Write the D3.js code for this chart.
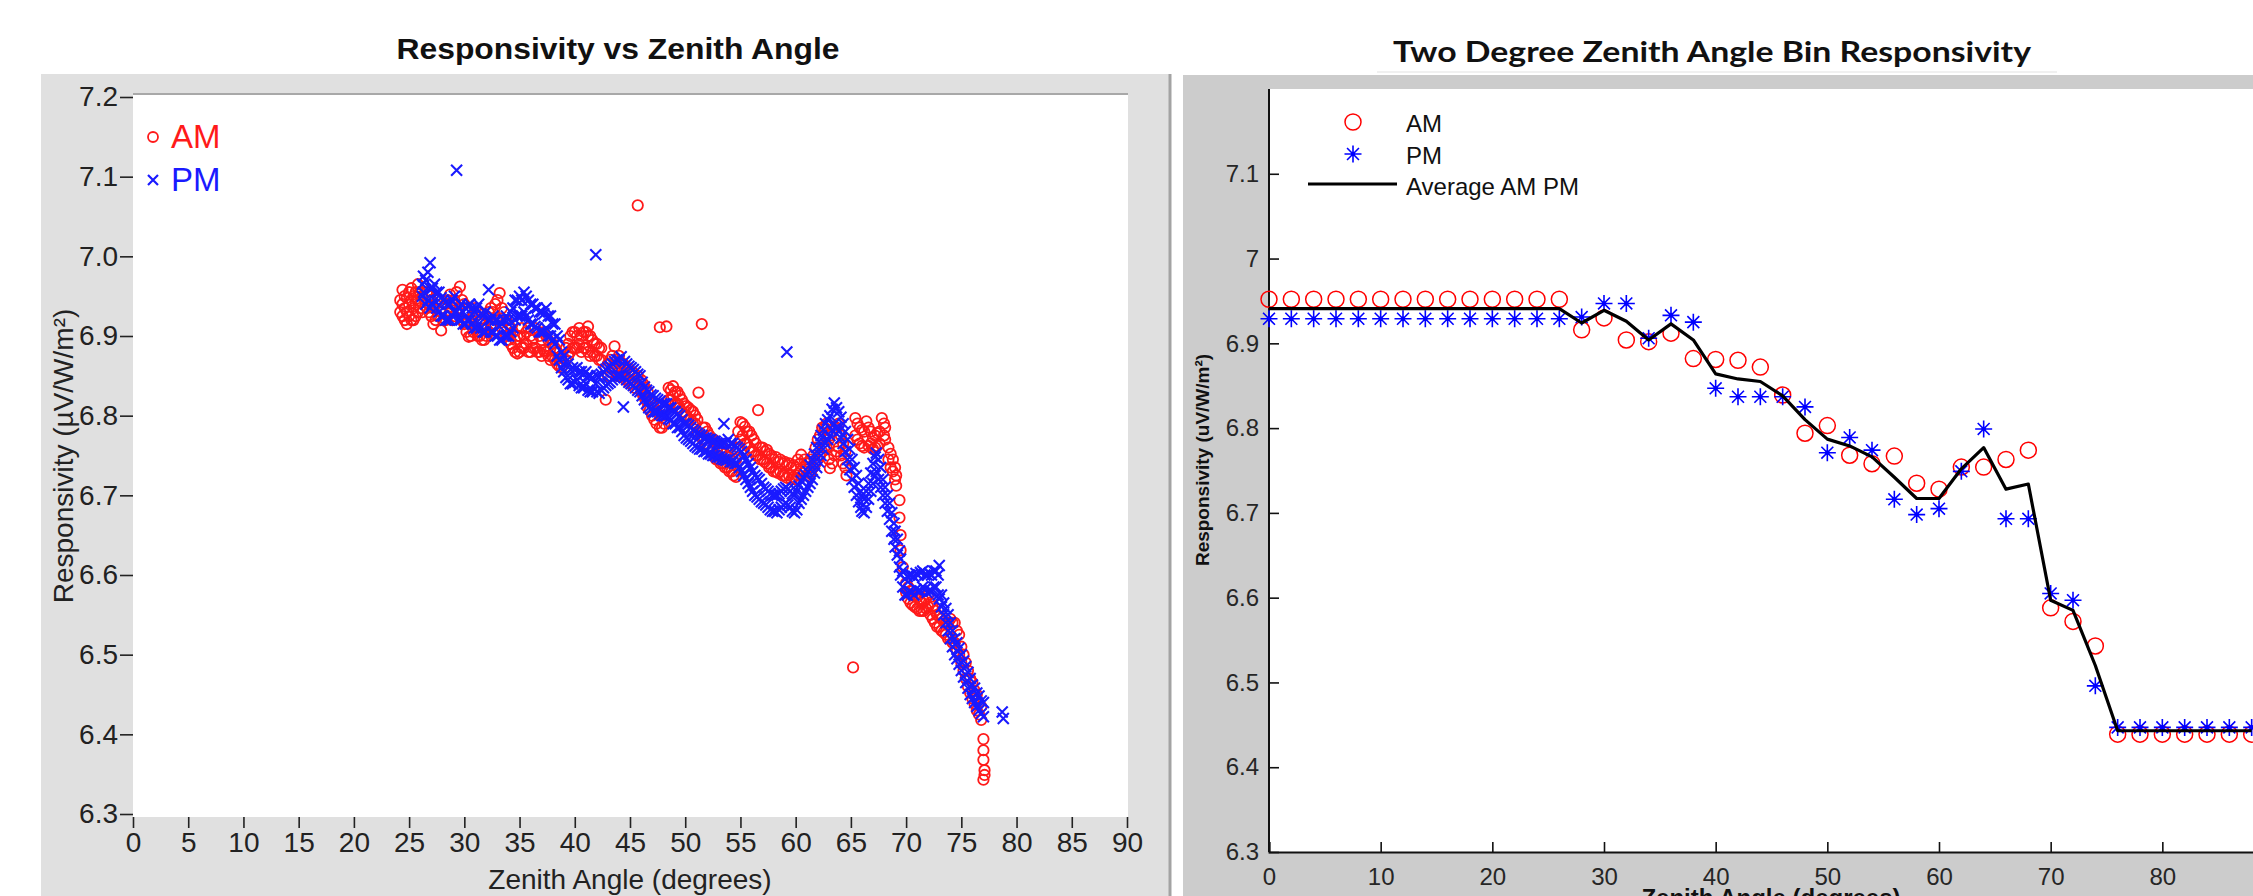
<!DOCTYPE html>
<html>
<head>
<meta charset="utf-8">
<script src="https://cdn.jsdelivr.net/npm/d3@7"></script>
<style>
  body { margin: 0; background: #fff; }
  svg { display: block; font-family: "Liberation Sans", Arial, sans-serif; }
</style>
</head>
<body>
<svg id="chart" width="2253" height="896"></svg>
<script>
// left chart: zenith angle -> responsivity readings, grouped by angle
const amScatter = [
  [24.2, [6.93, 6.945]], [24.6, [6.92, 6.935, 6.95]], [25.0, [6.925, 6.94, 6.955]],
  [25.4, [6.92, 6.935, 6.95]], [25.8, [6.93, 6.945, 6.965]], [26.2, [6.93, 6.95]],
  [26.6, [6.935, 6.955]], [27.0, [6.925, 6.945]], [27.4, [6.92, 6.94]], [27.9, [6.907, 6.93]],
  [28.3, [6.92, 6.94]], [28.7, [6.93, 6.952]], [29.1, [6.925, 6.945]], [29.6, [6.935, 6.962]],
  [30.0, [6.915, 6.94]], [30.4, [6.899, 6.92]], [30.8, [6.905, 6.925]], [31.2, [6.9, 6.93]],
  [31.6, [6.895, 6.915]], [32.0, [6.9, 6.925]], [32.4, [6.91, 6.935]], [32.8, [6.915, 6.94]],
  [33.2, [6.92, 6.954]], [33.6, [6.905, 6.93]], [34.0, [6.895, 6.915]], [34.4, [6.885, 6.905]],
  [34.8, [6.878, 6.9]], [35.2, [6.885, 6.91]], [35.6, [6.89, 6.905]], [36.0, [6.88, 6.9]],
  [36.4, [6.885, 6.91]], [36.8, [6.88, 6.9]], [37.2, [6.882, 6.905]], [37.6, [6.875, 6.895]],
  [38.0, [6.874, 6.89]], [38.4, [6.865, 6.88]], [38.8, [6.86, 6.875]], [39.2, [6.87, 6.885]],
  [39.6, [6.88, 6.9]], [40.0, [6.885, 6.905]], [40.4, [6.89, 6.91]], [40.8, [6.885, 6.905]],
  [41.2, [6.88, 6.9, 6.912]], [41.6, [6.88, 6.895]], [42.0, [6.875, 6.89]], [42.4, [6.87, 6.885]],
  [42.8, [6.82, 6.86]], [43.2, [6.855, 6.87]], [43.6, [6.86, 6.887]], [44.0, [6.855, 6.875]],
  [44.4, [6.85, 6.865]], [44.8, [6.845, 6.86]], [45.2, [6.84, 6.855]], [45.7, [7.064, 6.85]],
  [46.0, [6.83, 6.845]], [46.4, [6.82, 6.835]], [46.8, [6.807, 6.82]], [47.2, [6.795, 6.81]],
  [47.7, [6.911, 6.785, 6.8]], [48.1, [6.79, 6.805]], [48.3, [6.912]], [48.5, [6.82, 6.835]],
  [48.9, [6.825, 6.837]], [49.3, [6.815, 6.83]], [49.7, [6.805, 6.82]], [50.1, [6.8, 6.812]],
  [50.5, [6.795, 6.807]], [50.9, [6.79, 6.8]], [51.2, [6.829]], [51.5, [6.915, 6.775]],
  [51.8, [6.765, 6.785]], [52.2, [6.76, 6.775]], [52.6, [6.75, 6.77]], [53.0, [6.745, 6.765]],
  [53.4, [6.74, 6.76]], [53.8, [6.735, 6.755]], [54.2, [6.73, 6.75]], [54.6, [6.723, 6.745]],
  [55.0, [6.77, 6.792]], [55.4, [6.765, 6.786]], [55.8, [6.76, 6.78]], [56.2, [6.755, 6.77]],
  [56.6, [6.75, 6.807]], [57.0, [6.745, 6.76]], [57.4, [6.74, 6.757]], [57.8, [6.735, 6.75]],
  [58.2, [6.73, 6.748]], [58.6, [6.73, 6.745]], [59.0, [6.725, 6.742]], [59.4, [6.725, 6.74]],
  [59.8, [6.723, 6.738]], [60.2, [6.725, 6.745]], [60.5, [6.751]], [60.8, [6.73, 6.745]],
  [61.2, [6.728, 6.742]], [61.6, [6.735, 6.75]], [62.0, [6.745, 6.77]], [62.4, [6.755, 6.785]],
  [62.8, [6.76, 6.79]], [63.1, [6.734, 6.775]], [63.5, [6.75, 6.785]], [63.9, [6.76, 6.79]],
  [64.3, [6.74, 6.765]], [64.6, [6.725]], [65.2, [6.484]], [65.4, [6.775, 6.797]],
  [65.8, [6.765, 6.785]], [66.2, [6.76, 6.78]], [66.4, [6.793]], [66.8, [6.765, 6.78]],
  [67.2, [6.76, 6.775]], [67.6, [6.765, 6.78]], [67.8, [6.797]], [68.1, [6.77, 6.785]],
  [68.4, [6.745, 6.76]], [68.8, [6.73, 6.745]], [69.1, [6.712, 6.725]], [69.4, [6.694, 6.672]],
  [69.5, [6.65, 6.631]], [69.7, [6.61]], [70.0, [6.578, 6.59]], [70.4, [6.565, 6.58]],
  [70.8, [6.56, 6.575]], [71.2, [6.555, 6.57]], [71.6, [6.555, 6.568]], [72.0, [6.56, 6.575]],
  [72.4, [6.545, 6.56]], [72.8, [6.535, 6.55]], [73.2, [6.53, 6.545]], [73.6, [6.525, 6.54]],
  [74.0, [6.52, 6.545]], [74.4, [6.515, 6.54]], [74.8, [6.5, 6.525]], [75.2, [6.48, 6.5]],
  [75.6, [6.46, 6.48]], [76.0, [6.445, 6.465]], [76.4, [6.43, 6.45]], [76.8, [6.418, 6.435]],
  [77.0, [6.394, 6.38, 6.368, 6.343]], [77.1, [6.355, 6.349]]
]

// more AM readings filling the band between the ones above
const amScatterFill = [
  [24.4, [6.925, 6.94, 6.958]], [24.8, [6.915, 6.93, 6.948]], [25.2, [6.92, 6.945, 6.96]],
  [25.6, [6.925, 6.94, 6.955]], [26.0, [6.935, 6.955]], [26.8, [6.93, 6.95]], [27.2, [6.915, 6.935]],
  [27.6, [6.925, 6.945]], [28.5, [6.925, 6.945]], [28.9, [6.92, 6.94]], [29.3, [6.93, 6.955]],
  [29.8, [6.92, 6.945]], [30.2, [6.905, 6.93]], [30.6, [6.9, 6.915]], [31.0, [6.91, 6.935]],
  [31.4, [6.9, 6.92]], [31.8, [6.895, 6.91]], [32.2, [6.905, 6.93]], [32.6, [6.915, 6.93]],
  [33.0, [6.92, 6.945]], [33.4, [6.91, 6.935]], [33.8, [6.9, 6.92]], [34.2, [6.89, 6.91]],
  [34.6, [6.88, 6.895]], [35.0, [6.88, 6.9]], [35.4, [6.885, 6.9]], [35.8, [6.88, 6.91]],
  [36.2, [6.885, 6.895]], [36.6, [6.88, 6.905]], [37.0, [6.875, 6.895]], [37.4, [6.88, 6.9]],
  [37.8, [6.87, 6.885]], [38.2, [6.87, 6.885]], [38.6, [6.862, 6.872]], [39.4, [6.875, 6.89]],
  [39.8, [6.885, 6.905]], [40.2, [6.885, 6.9]], [40.6, [6.88, 6.9]], [41.0, [6.885, 6.905]],
  [41.4, [6.875, 6.9]], [41.8, [6.875, 6.89]], [42.2, [6.87, 6.885]], [43.0, [6.85, 6.865]],
  [43.4, [6.86, 6.875]], [43.8, [6.85, 6.87]], [44.2, [6.85, 6.865]], [44.6, [6.845, 6.86]],
  [45.0, [6.84, 6.855]], [45.4, [6.835, 6.85]], [46.2, [6.825, 6.84]], [46.6, [6.81, 6.83]],
  [47.0, [6.8, 6.815]], [47.4, [6.79, 6.805]], [47.9, [6.785, 6.8]], [48.7, [6.82, 6.832]],
  [49.1, [6.815, 6.83]], [49.5, [6.81, 6.825]], [49.9, [6.8, 6.815]], [50.3, [6.795, 6.81]],
  [50.7, [6.79, 6.805]], [51.1, [6.78, 6.795]], [51.6, [6.77, 6.785]], [52.0, [6.76, 6.78]],
  [52.4, [6.755, 6.77]], [52.8, [6.745, 6.765]], [53.2, [6.74, 6.755]], [53.6, [6.735, 6.752]],
  [54.0, [6.73, 6.748]], [54.4, [6.725, 6.742]], [54.8, [6.76, 6.78]], [55.2, [6.775, 6.79]],
  [55.6, [6.765, 6.78]], [56.0, [6.755, 6.775]], [56.4, [6.75, 6.765]], [56.8, [6.745, 6.76]],
  [57.2, [6.742, 6.755]], [57.6, [6.735, 6.752]], [58.0, [6.73, 6.745]], [58.4, [6.728, 6.742]],
  [58.8, [6.725, 6.74]], [59.2, [6.722, 6.738]], [59.6, [6.72, 6.735]], [60.0, [6.72, 6.735]],
  [60.4, [6.73, 6.74]], [61.0, [6.725, 6.74]], [61.4, [6.73, 6.745]], [61.8, [6.74, 6.76]],
  [62.2, [6.75, 6.775]], [62.6, [6.76, 6.785]], [63.0, [6.745, 6.77]], [63.3, [6.74, 6.78]],
  [63.7, [6.755, 6.785]], [64.1, [6.75, 6.775]], [64.5, [6.735, 6.755]], [65.6, [6.77, 6.79]],
  [66.0, [6.762, 6.782]], [66.6, [6.762, 6.785]], [67.0, [6.758, 6.772]], [67.4, [6.762, 6.778]],
  [68.0, [6.775, 6.79]], [68.6, [6.735, 6.752]], [69.0, [6.72, 6.735]], [70.2, [6.57, 6.585]],
  [70.6, [6.562, 6.575]], [71.0, [6.558, 6.572]], [71.4, [6.555, 6.565]], [71.8, [6.558, 6.57]],
  [72.2, [6.55, 6.565]], [72.6, [6.54, 6.555]], [73.0, [6.535, 6.548]], [73.4, [6.528, 6.542]],
  [73.8, [6.52, 6.54]], [74.2, [6.515, 6.54]], [74.6, [6.505, 6.53]], [75.0, [6.49, 6.51]],
  [75.4, [6.47, 6.49]], [75.8, [6.452, 6.47]], [76.2, [6.438, 6.455]], [76.6, [6.425, 6.44]]
]

const pmScatter = [
  [26.2, [6.95, 6.965]], [26.5, [6.94, 6.97]], [26.9, [6.992, 6.96, 6.935]], [27.3, [6.945, 6.965]],
  [27.7, [6.93, 6.955]], [28.1, [6.925, 6.945]], [28.5, [6.92, 6.94]], [28.9, [6.925, 6.945]],
  [29.3, [7.108, 6.93]], [29.7, [6.92, 6.94]], [30.1, [6.915, 6.935]], [30.5, [6.92, 6.94]],
  [30.9, [6.91, 6.93]], [31.3, [6.915, 6.94]], [31.7, [6.905, 6.925]], [32.2, [6.958, 6.92]],
  [32.6, [6.905, 6.925]], [33.0, [6.9, 6.92]], [33.4, [6.895, 6.915]], [33.8, [6.9, 6.925]],
  [34.2, [6.905, 6.93]], [34.6, [6.92, 6.945]], [35.0, [6.925, 6.95]], [35.4, [6.93, 6.955]],
  [35.8, [6.92, 6.945]], [36.2, [6.915, 6.94]], [36.6, [6.91, 6.935]], [37.0, [6.905, 6.93]],
  [37.4, [6.91, 6.935]], [37.8, [6.9, 6.925]], [38.2, [6.89, 6.915]], [38.6, [6.87, 6.895]],
  [39.0, [6.855, 6.875]], [39.4, [6.845, 6.865]], [39.8, [6.84, 6.86]], [40.2, [6.845, 6.86]],
  [40.6, [6.835, 6.855]], [41.0, [6.84, 6.855]], [41.4, [6.83, 6.85]], [41.9, [7.002, 6.84]],
  [42.2, [6.828, 6.848]], [42.6, [6.835, 6.855]], [43.0, [6.84, 6.86]], [43.4, [6.845, 6.865]],
  [43.8, [6.85, 6.87]], [44.2, [6.85, 6.874]], [44.4, [6.811]], [44.7, [6.845, 6.865]],
  [45.1, [6.84, 6.86]], [45.5, [6.835, 6.855]], [45.9, [6.83, 6.85]], [46.3, [6.82, 6.836]],
  [46.7, [6.81, 6.83]], [47.1, [6.805, 6.825]], [47.5, [6.805, 6.82]], [47.9, [6.8, 6.815]],
  [48.3, [6.8, 6.815]], [48.7, [6.795, 6.81]], [49.1, [6.79, 6.805]], [49.5, [6.785, 6.8]],
  [49.9, [6.775, 6.79]], [50.3, [6.77, 6.788]], [50.7, [6.765, 6.782]], [51.1, [6.76, 6.778]],
  [51.5, [6.758, 6.775]], [51.9, [6.755, 6.772]], [52.3, [6.752, 6.77]], [52.7, [6.75, 6.768]],
  [53.1, [6.748, 6.765]], [53.5, [6.745, 6.765, 6.79]], [53.9, [6.745, 6.77]], [54.3, [6.742, 6.765]],
  [54.7, [6.74, 6.76]], [55.1, [6.73, 6.755]], [55.5, [6.72, 6.745]], [55.9, [6.71, 6.735]],
  [56.3, [6.7, 6.725]], [56.7, [6.695, 6.72]], [57.1, [6.69, 6.71]], [57.5, [6.685, 6.705]],
  [57.9, [6.68, 6.7]], [58.3, [6.678, 6.7]], [58.7, [6.685, 6.705]], [59.1, [6.69, 6.71]],
  [59.2, [6.88]], [59.5, [6.685, 6.705]], [59.9, [6.678, 6.7]], [60.3, [6.69, 6.712]],
  [60.7, [6.7, 6.722]], [61.1, [6.71, 6.73]], [61.5, [6.72, 6.745]], [61.9, [6.735, 6.76]],
  [62.3, [6.75, 6.775]], [62.7, [6.765, 6.79]], [63.1, [6.775, 6.8]], [63.5, [6.79, 6.816]],
  [63.9, [6.78, 6.805]], [64.3, [6.765, 6.79]], [64.7, [6.745, 6.77]], [65.1, [6.72, 6.745]],
  [65.5, [6.7, 6.725]], [65.9, [6.685, 6.705]], [66.2, [6.678, 6.695]], [66.6, [6.695, 6.715]],
  [67.0, [6.715, 6.74]], [67.3, [6.73, 6.753]], [67.7, [6.71, 6.735]], [68.1, [6.69, 6.71]],
  [68.5, [6.67, 6.69]], [68.9, [6.645, 6.665]], [69.2, [6.625, 6.645]], [69.5, [6.6, 6.62]],
  [69.9, [6.575, 6.595]], [70.3, [6.58, 6.6]], [70.7, [6.575, 6.598]], [71.1, [6.58, 6.6]],
  [71.5, [6.585, 6.605]], [71.9, [6.578, 6.6]], [72.3, [6.58, 6.6]], [72.7, [6.585, 6.605]],
  [73.0, [6.612, 6.57]], [73.4, [6.55, 6.565]], [73.8, [6.53, 6.55]], [74.2, [6.51, 6.53]],
  [74.6, [6.495, 6.515]], [75.0, [6.48, 6.5]], [75.4, [6.465, 6.485]], [75.8, [6.45, 6.47]],
  [76.2, [6.44, 6.458]], [76.6, [6.43, 6.448]], [77.0, [6.422, 6.44]], [78.7, [6.428]], [78.8, [6.42]]
]

const pmScatterFill = [
  [26.3, [6.955, 6.975]], [26.7, [6.945, 6.98]], [27.1, [6.94, 6.96]], [27.5, [6.935, 6.955]],
  [27.9, [6.925, 6.948]], [28.3, [6.92, 6.942]], [28.7, [6.92, 6.94]], [29.1, [6.93, 6.95]],
  [29.5, [6.92, 6.935]], [29.9, [6.915, 6.93]], [30.3, [6.92, 6.938]], [30.7, [6.915, 6.935]],
  [31.1, [6.91, 6.935]], [31.5, [6.91, 6.928]], [31.9, [6.905, 6.93]], [32.4, [6.905, 6.92]],
  [32.8, [6.9, 6.92]], [33.2, [6.895, 6.912]], [33.6, [6.9, 6.92]], [34.0, [6.9, 6.92]],
  [34.4, [6.91, 6.935]], [34.8, [6.925, 6.945]], [35.2, [6.925, 6.945]], [35.6, [6.925, 6.95]],
  [36.0, [6.915, 6.94]], [36.4, [6.912, 6.935]], [36.8, [6.905, 6.93]], [37.2, [6.905, 6.928]],
  [37.6, [6.9, 6.925]], [38.0, [6.895, 6.915]], [38.4, [6.875, 6.9]], [38.8, [6.86, 6.88]],
  [39.2, [6.848, 6.868]], [39.6, [6.84, 6.858]], [40.0, [6.842, 6.858]], [40.4, [6.838, 6.855]],
  [40.8, [6.835, 6.852]], [41.2, [6.832, 6.85]], [41.6, [6.83, 6.848]], [42.0, [6.83, 6.85]],
  [42.4, [6.832, 6.852]], [42.8, [6.838, 6.858]], [43.2, [6.842, 6.862]], [43.6, [6.848, 6.868]],
  [44.0, [6.85, 6.87]], [44.5, [6.848, 6.868]], [44.9, [6.842, 6.862]], [45.3, [6.838, 6.858]],
  [45.7, [6.832, 6.852]], [46.1, [6.825, 6.842]], [46.5, [6.815, 6.832]], [46.9, [6.808, 6.826]],
  [47.3, [6.805, 6.822]], [47.7, [6.802, 6.818]], [48.1, [6.8, 6.815]], [48.5, [6.796, 6.81]],
  [48.9, [6.79, 6.806]], [49.3, [6.785, 6.802]], [49.7, [6.78, 6.795]], [50.1, [6.772, 6.79]],
  [50.5, [6.768, 6.785]], [50.9, [6.762, 6.78]], [51.3, [6.758, 6.776]], [51.7, [6.755, 6.772]],
  [52.1, [6.752, 6.77]], [52.5, [6.75, 6.768]], [52.9, [6.748, 6.765]], [53.3, [6.746, 6.764]],
  [53.7, [6.744, 6.766]], [54.1, [6.742, 6.765]], [54.5, [6.74, 6.762]], [54.9, [6.735, 6.758]],
  [55.3, [6.725, 6.75]], [55.7, [6.715, 6.74]], [56.1, [6.705, 6.73]], [56.5, [6.698, 6.722]],
  [56.9, [6.692, 6.715]], [57.3, [6.688, 6.708]], [57.7, [6.682, 6.702]], [58.1, [6.68, 6.7]],
  [58.5, [6.682, 6.702]], [58.9, [6.688, 6.708]], [59.3, [6.688, 6.708]], [59.7, [6.68, 6.702]],
  [60.1, [6.682, 6.705]], [60.5, [6.695, 6.718]], [60.9, [6.705, 6.726]], [61.3, [6.715, 6.738]],
  [61.7, [6.728, 6.752]], [62.1, [6.742, 6.768]], [62.5, [6.758, 6.782]], [62.9, [6.77, 6.795]],
  [63.3, [6.782, 6.808]], [63.7, [6.785, 6.81]], [64.1, [6.772, 6.798]], [64.5, [6.755, 6.78]],
  [64.9, [6.732, 6.758]], [65.3, [6.71, 6.735]], [65.7, [6.692, 6.715]], [66.0, [6.68, 6.7]],
  [66.4, [6.685, 6.705]], [66.8, [6.705, 6.728]], [67.2, [6.725, 6.748]], [67.5, [6.72, 6.745]],
  [67.9, [6.7, 6.72]], [68.3, [6.68, 6.7]], [68.7, [6.655, 6.678]], [69.0, [6.635, 6.655]],
  [69.4, [6.61, 6.63]], [69.7, [6.585, 6.605]], [70.1, [6.575, 6.598]], [70.5, [6.578, 6.6]],
  [70.9, [6.582, 6.602]], [71.3, [6.58, 6.603]], [71.7, [6.582, 6.6]], [72.1, [6.58, 6.602]],
  [72.5, [6.585, 6.605]], [72.9, [6.575, 6.6]], [73.2, [6.56, 6.575]], [73.6, [6.54, 6.558]],
  [74.0, [6.52, 6.54]], [74.4, [6.5, 6.52]], [74.8, [6.488, 6.508]], [75.2, [6.472, 6.492]],
  [75.6, [6.458, 6.478]], [76.0, [6.445, 6.462]], [76.4, [6.435, 6.452]], [76.8, [6.426, 6.442]]
]

// right chart: two degree bins
const binZenith = [0, 2, 4, 6, 8, 10, 12, 14, 16, 18, 20, 22, 24, 26, 28, 30, 32, 34, 36, 38, 40,
  42, 44, 46, 48, 50, 52, 54, 56, 58, 60, 62, 64, 66, 68, 70, 72, 74, 76, 78, 80, 82, 84, 86, 88]
const amBin = [6.952, 6.952, 6.952, 6.952, 6.952, 6.952, 6.952, 6.952, 6.952, 6.952, 6.952, 6.952, 6.952, 6.952,
  6.916, 6.930, 6.904, 6.902, 6.912, 6.882, 6.881, 6.880, 6.872, 6.839, 6.794, 6.803, 6.768, 6.758,
  6.767, 6.735, 6.728, 6.754, 6.754, 6.763, 6.774, 6.588, 6.572, 6.543,
  6.439, 6.439, 6.439, 6.439, 6.439, 6.439, 6.439]
const pmBin = [6.929, 6.929, 6.929, 6.929, 6.929, 6.929, 6.929, 6.929, 6.929, 6.929, 6.929, 6.929, 6.929, 6.929,
  6.931, 6.947, 6.947, 6.906, 6.933, 6.925, 6.847, 6.837, 6.837, 6.837, 6.825, 6.771, 6.789, 6.774,
  6.716, 6.698, 6.705, 6.749, 6.799, 6.693, 6.693, 6.605, 6.597, 6.496,
  6.447, 6.447, 6.447, 6.447, 6.447, 6.447, 6.447]
const avgBin = [6.941, 6.941, 6.941, 6.941, 6.941, 6.941, 6.941, 6.941, 6.941, 6.941, 6.941, 6.941, 6.941, 6.941,
  6.924, 6.939, 6.926, 6.904, 6.923, 6.904, 6.864, 6.858, 6.855, 6.838, 6.810, 6.787, 6.779, 6.766,
  6.742, 6.717, 6.717, 6.752, 6.777, 6.728, 6.734, 6.597, 6.585, 6.520,
  6.443, 6.443, 6.443, 6.443, 6.443, 6.443, 6.443]

const leftYTicks = [6.3, 6.4, 6.5, 6.6, 6.7, 6.8, 6.9, 7.0, 7.1, 7.2]
const leftXTicks = [0, 5, 10, 15, 20, 25, 30, 35, 40, 45, 50, 55, 60, 65, 70, 75, 80, 85, 90]
const rightYTicks = [6.3, 6.4, 6.5, 6.6, 6.7, 6.8, 6.9, 7.0, 7.1]
const rightXTicks = [0, 10, 20, 30, 40, 50, 60, 70, 80]

const flatten = (groups) => groups.flatMap(([z, vals]) => vals.map(v => ({ z, v })))

const svg = d3.select('#chart')

const CROSS = 'M-5.5,-5.5L5.5,5.5M-5.5,5.5L5.5,-5.5'

function drawLeft() {
  const x = d3.scaleLinear().domain([0, 90]).range([133, 1127])
  const y = d3.scaleLinear().domain([6.3, 7.2]).range([814, 97])

  svg.append('rect').attr('x', 41).attr('y', 74).attr('width', 1128).attr('height', 822).attr('fill', '#e0e0e0')
  svg.append('line').attr('x1', 1170).attr('x2', 1170).attr('y1', 74).attr('y2', 896)
    .attr('stroke', '#a3a3a3').attr('stroke-width', 3)
  svg.append('rect').attr('x', 133).attr('y', 94).attr('width', 995).attr('height', 723).attr('fill', '#fff')
  svg.append('line').attr('x1', 133).attr('x2', 1128).attr('y1', 94).attr('y2', 94)
    .attr('stroke', '#a8a8a8').attr('stroke-width', 2)

  svg.append('text').attr('x', 618).attr('y', 59).attr('text-anchor', 'middle')
    .attr('font-size', 30).attr('font-weight', 'bold').attr('fill', '#111')
    .attr('textLength', 443).attr('lengthAdjust', 'spacingAndGlyphs')
    .text('Responsivity vs Zenith Angle')

  const yAxis = svg.append('g').attr('transform', 'translate(133,0)')
    .call(d3.axisLeft(y).tickValues(leftYTicks).tickFormat(d3.format('.1f')).tickSize(13).tickPadding(2))
  const xAxis = svg.append('g').attr('transform', 'translate(0,817)')
    .call(d3.axisBottom(x).tickValues(leftXTicks).tickSize(11).tickPadding(4))
  for (const ax of [yAxis, xAxis]) {
    ax.select('.domain').remove()
    ax.selectAll('line').attr('stroke', '#222').attr('stroke-width', 1.6)
    ax.selectAll('text').attr('font-size', 28).attr('fill', '#222')
      .attr('font-family', '"Liberation Sans", Arial, sans-serif')
  }

  svg.append('text').attr('x', 630).attr('y', 889).attr('text-anchor', 'middle')
    .attr('font-size', 28).attr('fill', '#222').text('Zenith Angle (degrees)')
  svg.append('text').attr('transform', 'translate(73,456) rotate(-90)').attr('text-anchor', 'middle')
    .attr('font-size', 28).attr('fill', '#222').text('Responsivity (µV/W/m²)')

  const plot = svg.append('g')
  plot.selectAll('circle.am').data(flatten(amScatter).concat(flatten(amScatterFill))).enter().append('circle')
    .attr('class', 'am')
    .attr('cx', d => x(d.z)).attr('cy', d => y(d.v)).attr('r', 5.2)
    .attr('fill', 'none').attr('stroke', '#ff1a1a').attr('stroke-width', 1.8)
  plot.selectAll('path.pm').data(flatten(pmScatter).concat(flatten(pmScatterFill))).enter().append('path')
    .attr('class', 'pm')
    .attr('transform', d => `translate(${x(d.z)},${y(d.v)})`)
    .attr('d', CROSS)
    .attr('stroke', '#1a1aff').attr('stroke-width', 2.1)

  // legend
  svg.append('circle').attr('cx', 153).attr('cy', 137).attr('r', 5)
    .attr('fill', 'none').attr('stroke', '#ff1a1a').attr('stroke-width', 1.8)
  svg.append('text').attr('x', 171).attr('y', 148).attr('font-size', 33).attr('fill', '#ff1a1a').text('AM')
  svg.append('path').attr('transform', 'translate(153,180)').attr('d', 'M-5,-5L5,5M-5,5L5,-5')
    .attr('stroke', '#1a1aff').attr('stroke-width', 2.2)
  svg.append('text').attr('x', 171).attr('y', 191).attr('font-size', 33).attr('fill', '#1a1aff').text('PM')
}

function starPath(s) {
  const d = s * 0.7
  return `M${-s},0L${s},0M0,${-s}L0,${s}M${-d},${-d}L${d},${d}M${-d},${d}L${d},${-d}`
}

function drawRight() {
  const x = d3.scaleLinear().domain([0, 90]).range([1269, 2274])
  const y = d3.scaleLinear().domain([6.3, 7.2]).range([852, 89])

  svg.append('rect').attr('x', 1183).attr('y', 75).attr('width', 1070).attr('height', 821).attr('fill', '#cccccc')
  svg.append('line').attr('x1', 1377).attr('x2', 2057).attr('y1', 72).attr('y2', 72)
    .attr('stroke', '#f0f0f0').attr('stroke-width', 2)
  svg.append('rect').attr('x', 1269).attr('y', 89).attr('width', 1000).attr('height', 763).attr('fill', '#fff')

  svg.append('text').attr('x', 1712).attr('y', 62).attr('text-anchor', 'middle')
    .attr('font-family', 'Lato, "Open Sans", sans-serif')
    .attr('font-size', 28).attr('font-weight', 'bold').attr('fill', '#111')
    .attr('textLength', 638).attr('lengthAdjust', 'spacingAndGlyphs')
    .text('Two Degree Zenith Angle Bin Responsivity')

  const yAxis = svg.append('g').attr('transform', 'translate(1269,0)')
    .call(d3.axisLeft(y).tickValues(rightYTicks).tickFormat(d3.format('~g')).tickSize(-10).tickPadding(10))
  const xAxis = svg.append('g').attr('transform', 'translate(0,852)')
    .call(d3.axisBottom(x).tickValues(rightXTicks).tickSize(-10).tickPadding(10))
  yAxis.select('.domain').attr('d', 'M0,89V852')
  for (const ax of [yAxis, xAxis]) {
    ax.select('.domain').attr('stroke', '#111').attr('stroke-width', 2)
    ax.selectAll('line').attr('stroke', '#111').attr('stroke-width', 1.6)
    ax.selectAll('text').attr('font-size', 24).attr('fill', '#262626')
      .attr('font-family', '"Liberation Sans", Arial, sans-serif')
  }
  xAxis.selectAll('.tick text').attr('dy', '0.95em')

  svg.append('text').attr('x', 1771).attr('y', 906).attr('text-anchor', 'middle')
    .attr('font-size', 24).attr('font-weight', 'bold').attr('fill', '#111').text('Zenith Angle (degrees)')
  svg.append('text').attr('transform', 'translate(1209,460) rotate(-90)').attr('text-anchor', 'middle')
    .attr('font-size', 19).attr('font-weight', 'bold').attr('fill', '#111').text('Responsivity (uV/W/m²)')

  const am = binZenith.map((z, i) => ({ z, v: amBin[i] }))
  const pm = binZenith.map((z, i) => ({ z, v: pmBin[i] }))
  const avg = binZenith.map((z, i) => ({ z, v: avgBin[i] }))

  const plot = svg.append('g')
  plot.selectAll('circle.am').data(am).enter().append('circle')
    .attr('class', 'am')
    .attr('cx', d => x(d.z)).attr('cy', d => y(d.v)).attr('r', 8)
    .attr('fill', 'none').attr('stroke', '#ff0000').attr('stroke-width', 1.5)
  const stars = plot.selectAll('g.pm').data(pm).enter().append('g')
    .attr('class', 'pm')
    .attr('transform', d => `translate(${x(d.z)},${y(d.v)})`)
  stars.append('path').attr('d', starPath(8.5)).attr('stroke', '#0000ff').attr('stroke-width', 1.6)
  stars.append('circle').attr('r', 2.2).attr('fill', '#0000ff')

  const line = d3.line().x(d => x(d.z)).y(d => y(d.v))
  plot.append('path').datum(avg).attr('d', line)
    .attr('fill', 'none').attr('stroke', '#000').attr('stroke-width', 3.2).attr('stroke-linejoin', 'round')

  // legend
  const lg = svg.append('g').attr('font-size', 24).attr('fill', '#111')
  lg.append('circle').attr('cx', 1353).attr('cy', 122).attr('r', 8)
    .attr('fill', 'none').attr('stroke', '#ff0000').attr('stroke-width', 1.5)
  lg.append('text').attr('x', 1406).attr('y', 132).text('AM')
  const ls = lg.append('g').attr('transform', 'translate(1353,154)')
  ls.append('path').attr('d', starPath(8.5)).attr('stroke', '#0000ff').attr('stroke-width', 1.6)
  ls.append('circle').attr('r', 2.2).attr('fill', '#0000ff')
  lg.append('text').attr('x', 1406).attr('y', 164).text('PM')
  lg.append('line').attr('x1', 1308).attr('x2', 1397).attr('y1', 184).attr('y2', 184)
    .attr('stroke', '#000').attr('stroke-width', 3.2)
  lg.append('text').attr('x', 1406).attr('y', 195).text('Average AM PM')
}

drawLeft()
drawRight()
</script>
</body>
</html>
